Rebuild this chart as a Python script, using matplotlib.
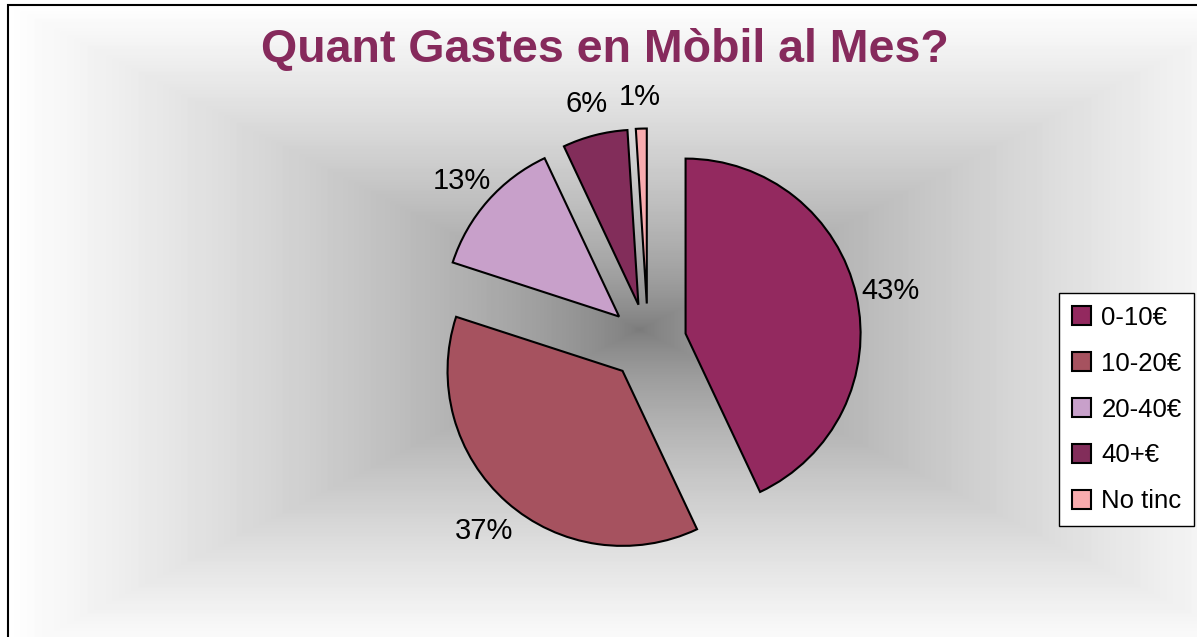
import numpy as np
import matplotlib.pyplot as plt
from matplotlib.patches import Rectangle

categories = ['0-10€', '10-20€', '20-40€', '40+€', 'No tinc']
percent = [43, 37, 13, 6, 1]
colors = ['#93295F', '#A6525F', '#C8A0CA', '#822D5A', '#F8ABAE']

plt.rcParams['font.family'] = ['Liberation Sans', 'DejaVu Sans']

W, H = 1197, 637
R = 175.0            # pie radius in pixels
CX, CY = 648, 342    # pie centre in pixels (from top-left)


def px(x, y):
    """pixel position (top-left origin) -> data units of the pie axes"""
    return (x - CX) / R, (CY - y) / R


fig = plt.figure(figsize=(W / 100, H / 100), dpi=100)
ax = fig.add_axes([0, 0, 1, 1])

# rectangular "from centre" gradient of the chart area
fx0, fy0 = 8, 5
gx, gy, hx, hy = 640, 330, 632, 325
xx, yy = np.meshgrid(np.arange(fx0, W) + 0.5, np.arange(fy0, H) + 0.5)
t = np.maximum(np.abs(xx - gx) / hx, np.abs(yy - gy) / hy)
g = np.clip(122 + 133 * np.clip(t, 0, 1) ** 0.7, 0, 255) / 255
l, top = px(fx0, fy0)
r, bot = px(W, H)
ax.imshow(g, cmap='gray', vmin=0, vmax=1, extent=(l, r, bot, top),
          interpolation='bilinear', zorder=0)

wedges, texts, autotexts = ax.pie(
    percent, colors=colors, startangle=90, counterclock=False,
    explode=[0.22] * len(percent), autopct='%1.0f%%', pctdistance=1.2,
    wedgeprops={'edgecolor': 'black', 'linewidth': 1.5},
    textprops={'fontsize': 21, 'color': 'black'})
for w in wedges:
    w.set_zorder(2)
for a in autotexts:
    a.set_va('center_baseline')

ax.add_patch(Rectangle((l, bot - 1), r - l + 1, top - bot + 1, fill=False,
                       edgecolor='black', linewidth=1.5, zorder=5))

ax.set_xlim(px(0, 0)[0], px(W, 0)[0])
ax.set_ylim(px(0, H)[1], px(0, 0)[1])
ax.set_aspect('equal')
ax.axis('off')

fig.text(605 / W, 1 - 50 / H, 'Quant Gastes en Mòbil al Mes?', ha='center',
         va='center', fontsize=33.5, fontweight='bold', color='#862A5C')

leg = ax.legend(wedges, categories, loc='upper left',
                bbox_to_anchor=(1059 / W, 1 - 293 / H),
                bbox_transform=fig.transFigure, borderaxespad=0,
                fontsize=18.5, handlelength=0.75, handleheight=0.75,
                handletextpad=0.4, labelspacing=0.85, borderpad=0.5,
                fancybox=False, framealpha=1, facecolor='white',
                edgecolor='black')
leg.get_frame().set_linewidth(1)

fig.savefig('out.png', dpi=100)
